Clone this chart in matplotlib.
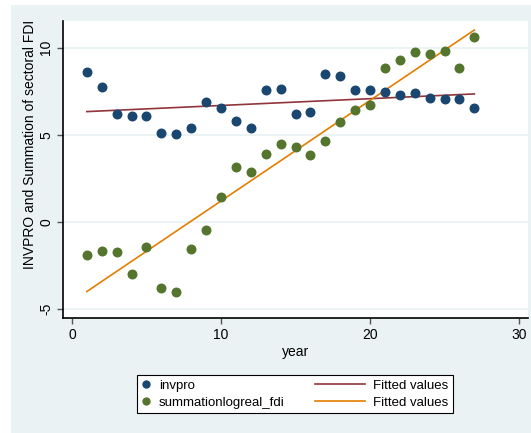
import matplotlib.pyplot as plt
import numpy as np
from matplotlib.legend_handler import HandlerLine2D
from matplotlib.lines import Line2D
from matplotlib.patches import Rectangle

plt.rcParams["font.family"] = ["Liberation Sans", "DejaVu Sans"]

year = np.arange(1, 28)
invpro = [8.62, 7.72, 6.21, 6.06, 6.06, 5.11, 5.04, 5.39, 6.90, 6.53,
          5.80, 5.39, 7.57, 7.63, 6.21, 6.32, 8.49, 8.39, 7.57, 7.57,
          7.47, 7.26, 7.38, 7.13, 7.07, 7.07, 6.55]
fdi = [-1.90, -1.68, -1.72, -2.99, -1.45, -3.83, -4.06, -1.55, -0.46, 1.40,
       3.13, 2.87, 3.91, 4.48, 4.28, 3.82, 4.66, 5.75, 6.42, 6.71,
       8.82, 9.28, 9.75, 9.64, 9.83, 8.85, 10.61]
x_ticks = [0, 10, 20, 30]
y_ticks = [-5, 0, 5, 10]

navy = "#1a476f"
maroon = "#90353b"
green = "#55752f"
orange = "#e37e00"
bg = "#eaf2f3"


class LongLineHandler(HandlerLine2D):
    # Stata draws line keys longer than marker keys
    def get_xdata(self, legend, xdescent, ydescent, width, height, fontsize):
        x = [-xdescent + width - 3.8 * fontsize, -xdescent + width]
        return x, [x[-1]]


fig = plt.figure(figsize=(5.31, 4.33), dpi=100)
fig.patches.append(Rectangle((11 / 531, 0), 1, 428 / 433, transform=fig.transFigure,
                             facecolor=bg, edgecolor="none", zorder=-1))
ax = fig.add_axes([63 / 531, 115 / 433, 465 / 531, 297 / 433])

fit_inv = np.polyval(np.polyfit(year, invpro, 1), year)
fit_fdi = np.polyval(np.polyfit(year, fdi, 1), year)

ax.scatter(year, invpro, s=38, color=navy, zorder=3, label="invpro")
ax.scatter(year, fdi, s=38, color=green, zorder=3, label="summationlogreal_fdi")
l1, = ax.plot(year, fit_inv, color=maroon, lw=1.2, zorder=2, label="Fitted values")
l2, = ax.plot(year, fit_fdi, color=orange, lw=1.2, zorder=2, label="Fitted values")

ax.set_xlim(-0.6, 30.6)
ax.set_ylim(-5.53, 11.53)
ax.set_xticks(x_ticks)
ax.set_yticks(y_ticks)
ax.set_yticklabels([str(t) for t in y_ticks], rotation=90, va="center")
ax.tick_params(labelsize=10, length=4, color="#555555", width=1)
ax.tick_params(axis="y", pad=3)
ax.grid(axis="y", color=bg, lw=1.3)
ax.set_axisbelow(True)
for side in ["top", "right"]:
    ax.spines[side].set_visible(False)
for side in ["left", "bottom"]:
    ax.spines[side].set_linewidth(1.2)
ax.set_xlabel("year", fontsize=10, labelpad=2)

fig.text(30 / 531, 1 - 144 / 433, "INVPRO and Summation of sectoral FDI",
         rotation=90, ha="center", va="center", fontsize=10)

m1 = Line2D([], [], ls="none", marker="o", ms=5, color=navy)
m2 = Line2D([], [], ls="none", marker="o", ms=5, color=green)
leg = ax.legend([m1, m2, l1, l2],
                ["invpro", "summationlogreal_fdi", "Fitted values", "Fitted values"],
                ncol=2, handlelength=0.7, handletextpad=0.6, columnspacing=5.4,
                labelspacing=0.35, borderpad=0.35, fontsize=9.5,
                fancybox=False, edgecolor="black", framealpha=1,
                loc="center", bbox_to_anchor=(295 / 531, 1 - 394 / 433),
                bbox_transform=fig.transFigure,
                handler_map={l1: LongLineHandler(), l2: LongLineHandler()})
leg.get_frame().set_linewidth(0.8)

fig.savefig("out.png", dpi=100)
